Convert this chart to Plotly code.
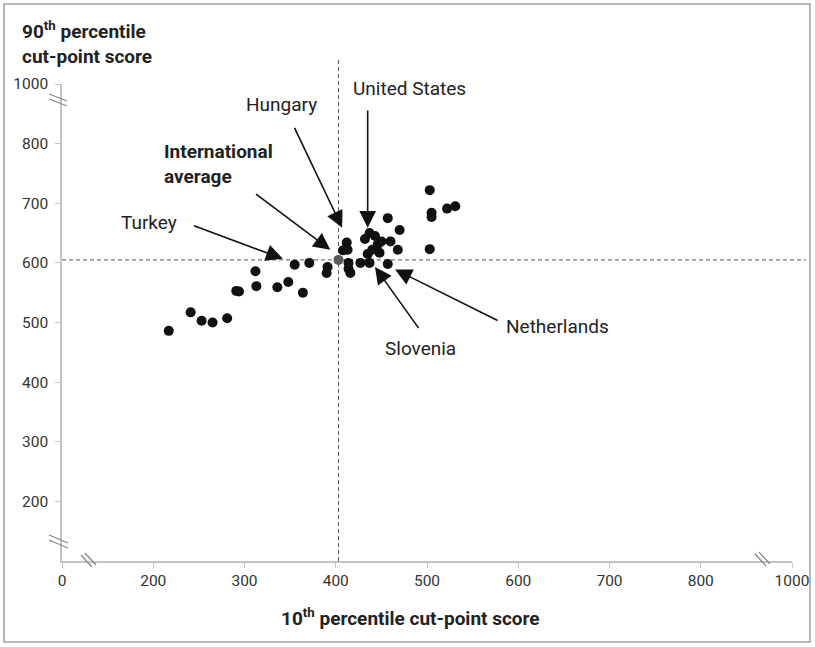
import plotly.graph_objects as go

# ---------------- data ----------------
x10 = [217, 241, 253, 265, 281, 291, 294, 312, 313, 336, 348, 364, 355, 371,
       391, 390, 412, 413, 408, 414, 414, 416, 427, 437, 432, 437, 443, 446,
       450, 460, 457, 470, 468, 448, 440, 435, 457, 503, 505, 505, 522, 531, 503]
y90 = [486, 517, 503, 500, 507, 553, 552, 586, 561, 559, 568, 550, 597, 600,
       593, 583, 634, 622, 621, 600, 590, 583, 600, 600, 640, 650, 645, 631,
       636, 636, 675, 655, 622, 617, 622, 615, 598, 722, 684, 677, 691, 695, 623]
avg_x, avg_y = 403, 605

x_tick_vals = [100, 200, 300, 400, 500, 600, 700, 800, 900]
x_tick_text = ["0", "200", "300", "400", "500", "600", "700", "800", "1000"]
y_tick_vals = [200, 300, 400, 500, 600, 700, 800, 900]
y_tick_text = ["200", "300", "400", "500", "600", "700", "800", "1000"]

# label text, label position, arrow tail, arrow tip
labels = ["United States", "Hungary", "<b>International<br>average</b>", "Turkey", "Slovenia", "Netherlands"]
label_x = [481, 340, 210, 195, 493, 643]
label_y = [893, 866, 766, 667, 457, 494]
label_anchor = ["center", "center", "left", "center", "center", "center"]
tail_x = [435, 354, 311, 243, 492, 579]
tail_y = [858, 829, 717, 663, 488, 502]
tip_x = [435, 407, 394, 342, 443, 465]
tip_y = [659, 659, 622, 607, 593, 589]

# ---------------- layout geometry ----------------
W, H = 815, 647
L, R, T, B = 62, 23, 84, 86
PW, PH = W - L - R, H - T - B
FONT = "Roboto, Liberation Sans, sans-serif"


def px(xp):
    return (xp - L) / PW


def py(yp):
    return (H - B - yp) / PH


fig = go.Figure()
fig.add_trace(go.Scatter(x=x10, y=y90, mode="markers",
                         marker=dict(size=10, color="#111111"),
                         hoverinfo="skip", showlegend=False))
fig.add_trace(go.Scatter(x=[avg_x], y=[avg_y], mode="markers",
                         marker=dict(size=10, color="#5a5a5a"),
                         hoverinfo="skip", showlegend=False))

shapes = []
# dashed reference lines
shapes.append(dict(type="line", xref="paper", yref="y", x0=0, x1=px(806),
                   y0=avg_y, y1=avg_y, line=dict(color="#555", width=1, dash="4px,3px"), layer="below"))
shapes.append(dict(type="line", xref="x", yref="paper", x0=avg_x, x1=avg_x,
                   y0=0, y1=py(57), line=dict(color="#555", width=1, dash="4px,3px"), layer="below"))
# axis break marks
brk = dict(color="#888", width=1.3)
break_segments = [
    ((49, 94), (67, 101)), ((49, 99), (67, 106)),
    ((49, 535), (68, 543)), ((49, 540), (68, 548)),
    ((81, 555), (92, 567)), ((85, 553), (96, 565)),
    ((755, 554), (766, 566)), ((759, 552), (770, 564)),
]
for (p0, p1) in break_segments:
    shapes.append(dict(type="line", xref="paper", yref="paper",
                       x0=px(p0[0]), y0=py(p0[1]), x1=px(p1[0]), y1=py(p1[1]), line=brk))
# outer frame
shapes.append(dict(type="rect", xref="paper", yref="paper", x0=px(4), x1=px(810),
                   y0=py(642), y1=py(4), line=dict(color="#a0a0a0", width=1.5)))

annotations = []
for i in range(len(labels)):
    annotations.append(dict(x=tip_x[i], y=tip_y[i], ax=tail_x[i], ay=tail_y[i],
                            xref="x", yref="y", axref="x", ayref="y", text="",
                            showarrow=True, arrowhead=2, arrowsize=2.1, arrowwidth=1.6,
                            arrowcolor="#111"))
    annotations.append(dict(x=label_x[i], y=label_y[i], xref="x", yref="y",
                            text=labels[i], showarrow=False, xanchor=label_anchor[i],
                            yanchor="middle", align="left",
                            font=dict(family=FONT, size=19, color="#222")))

annotations.append(dict(x=px(20), y=py(16), xref="paper", yref="paper", xanchor="left",
                        yanchor="top", align="left", showarrow=False,
                        text="<b>90<sup>th</sup> percentile<br>cut-point score</b>",
                        font=dict(family=FONT, size=19, color="#222")))
annotations.append(dict(x=px(410), y=py(617), xref="paper", yref="paper", xanchor="center",
                        yanchor="middle", showarrow=False,
                        text="<b>10<sup>th</sup> percentile cut-point score</b>",
                        font=dict(family=FONT, size=19, color="#222")))

axis_common = dict(showgrid=False, zeroline=False, showline=True, linecolor="#c4c4c4",
                   linewidth=1.5, ticks="outside", ticklen=5, tickcolor="#c4c4c4",
                   tickwidth=1.2, tickfont=dict(family=FONT, size=15.5, color="#333"),
                   tickmode="array", fixedrange=True)

fig.update_layout(
    width=W, height=H, margin=dict(l=L, r=R, t=T, b=B, autoexpand=False),
    paper_bgcolor="white", plot_bgcolor="white",
    xaxis=dict(range=[100, 900], tickvals=x_tick_vals, ticktext=x_tick_text, **axis_common),
    yaxis=dict(range=[100, 900], tickvals=y_tick_vals, ticktext=y_tick_text,
               ticklabelstandoff=4, **axis_common),
    shapes=shapes, annotations=annotations,
)

fig.write_html("out.html", config={"displayModeBar": False},
               post_script="document.body.style.margin='0';document.body.style.overflow='hidden';")
